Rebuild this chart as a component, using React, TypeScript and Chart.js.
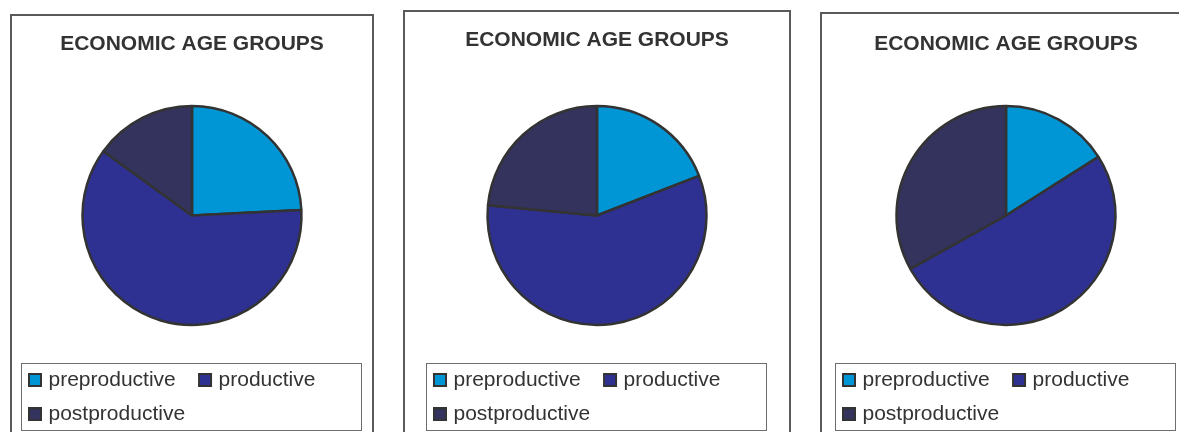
import React, { useEffect, useRef } from "react";
import { Chart, registerables } from "chart.js";

Chart.register(...registerables);

// ---- data ----
const categories = ["preproductive", "productive", "postproductive"];
const chartTitle = "ECONOMIC AGE GROUPS";
const panelAValues = [24.2, 60.8, 15.0];
const panelBValues = [19.1, 57.4, 23.5];
const panelCValues = [16.0, 50.9, 33.1];

// ---- styles / layout ----
const sliceColors = ["#0096d6", "#2e3192", "#33335e"];
const FONT = "'Liberation Sans', Arial, Helvetica, sans-serif";
const TEXT_COLOR = "#333333";
const CANVAS_W = 384;
const CANVAS_H = 435;

const panels = [
  { values: panelAValues, cx: 192, titleTop: 31.4, frame: { left: 10, top: 14, width: 364 } },
  { values: panelBValues, cx: 597, titleTop: 27.6, frame: { left: 403, top: 10, width: 388 } },
  { values: panelCValues, cx: 1006, titleTop: 31.7, frame: { left: 820, top: 12, width: 380 } },
];

function makeSwatch(color: string): HTMLCanvasElement {
  const c = document.createElement("canvas");
  c.width = 29;
  c.height = 14;
  const ctx = c.getContext("2d")!;
  ctx.fillStyle = color;
  ctx.fillRect(14, 0, 14, 14);
  ctx.strokeStyle = "#333333";
  ctx.lineWidth = 2;
  ctx.strokeRect(15, 1, 12, 12);
  return c;
}

const legendFramePlugin = {
  id: "legendFrame",
  afterDraw(chart: any) {
    const lg = chart.legend;
    if (!lg) return;
    const ctx = chart.ctx;
    const mid = (lg.left + lg.right) / 2;
    ctx.save();
    ctx.strokeStyle = "#6e6e6e";
    ctx.lineWidth = 1;
    ctx.strokeRect(mid - 170.5, Math.round(lg.top + 7) + 0.5, 340, 67);
    ctx.restore();
  },
};

function PiePanel({ values, cx, titleTop }: { values: number[]; cx: number; titleTop: number }) {
  const ref = useRef<HTMLCanvasElement>(null);
  useEffect(() => {
    const canvas = ref.current;
    if (!canvas) return;
    const swatches = sliceColors.map((c) => makeSwatch(c));
    const chart = new Chart(canvas, {
      type: "pie",
      data: {
        labels: categories,
        datasets: [
          {
            data: values,
            backgroundColor: sliceColors,
            borderColor: "#333333",
            borderWidth: 2.5,
            radius: 109.5,
          } as any,
        ],
      },
      options: {
        responsive: false,
        animation: false,
        events: [],
        layout: { padding: { left: 5.7, right: 5.7, top: 0, bottom: 0.2 } },
        plugins: {
          title: {
            display: true,
            text: chartTitle,
            color: TEXT_COLOR,
            font: { family: FONT, size: 21, weight: "bold", lineHeight: 1.2 },
            padding: { top: titleTop, bottom: 74.8 - titleTop - 25.2 },
          },
          legend: {
            position: "bottom",
            align: "start",
            labels: {
              usePointStyle: true,
              boxWidth: 19,
              boxHeight: 14,
              padding: 13.3,
              color: TEXT_COLOR,
              font: { family: FONT, size: 21 },
              generateLabels: (ch: any) =>
                (ch.data.labels as string[]).map((text, i) => ({
                  text,
                  fillStyle: sliceColors[i],
                  strokeStyle: "#333333",
                  lineWidth: 2,
                  hidden: false,
                  index: i,
                  pointStyle: swatches[i],
                  fontColor: TEXT_COLOR,
                })),
            },
          },
          tooltip: { enabled: false },
        },
      } as any,
      plugins: [legendFramePlugin],
    });
    return () => chart.destroy();
  }, [values, cx, titleTop]);

  return (
    <canvas
      ref={ref}
      width={CANVAS_W}
      height={CANVAS_H}
      style={{ position: "absolute", left: cx - CANVAS_W / 2, top: 0, width: CANVAS_W, height: CANVAS_H }}
    />
  );
}

export default function App() {
  return (
    <div
      style={{
        position: "absolute",
        left: 0,
        top: 0,
        width: 1179,
        height: 432,
        overflow: "hidden",
        background: "#ffffff",
      }}
    >
      {panels.map((p, i) => (
        <div
          key={"f" + i}
          style={{
            position: "absolute",
            left: p.frame.left,
            top: p.frame.top,
            width: p.frame.width,
            height: 460,
            border: "2px solid #5a5a5a",
            boxSizing: "border-box",
          }}
        />
      ))}
      {panels.map((p, i) => (
        <PiePanel key={"c" + i} values={p.values} cx={p.cx} titleTop={p.titleTop} />
      ))}
    </div>
  );
}
